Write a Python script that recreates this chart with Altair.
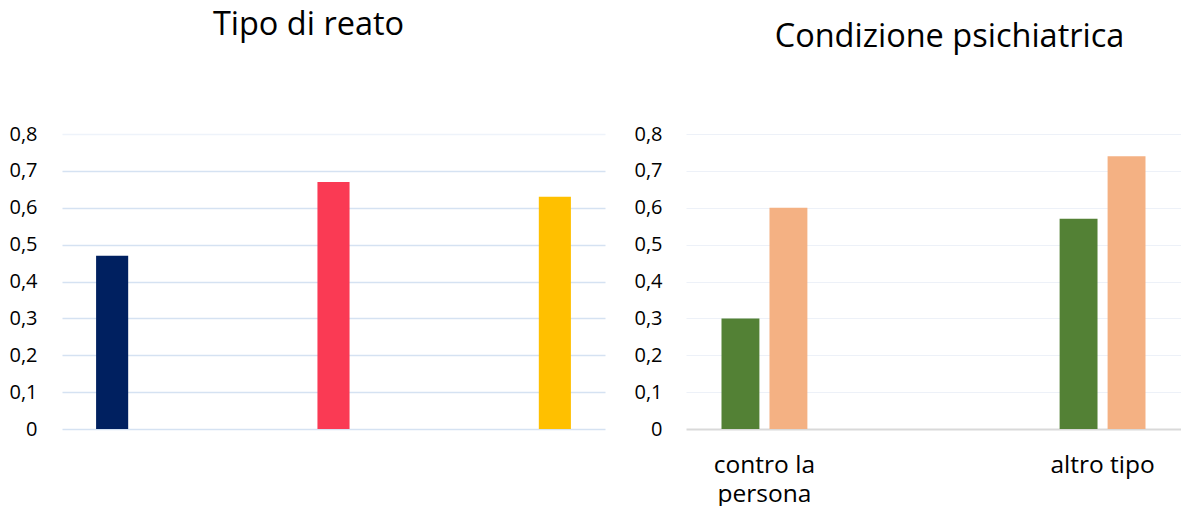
import altair as alt
import pandas as pd

# ---- data ----
left_title = "Tipo di reato"
left_categories = ["reato 1", "reato 2", "reato 3"]
left_values = [0.47, 0.67, 0.63]
left_colors = ["#002060", "#FA3A54", "#FFC000"]

right_title = "Condizione psichiatrica"
right_categories = ["contro la persona", "altro tipo"]
right_series = ["serie 1", "serie 2"]
right_values_s1 = [0.30, 0.57]
right_values_s2 = [0.60, 0.74]
right_colors = ["#538135", "#F4B183"]

y_ticks = [0, 0.1, 0.2, 0.3, 0.4, 0.5, 0.6, 0.7, 0.8]

FONT = "Open Sans"

df_left = pd.DataFrame({"cat": left_categories, "val": left_values})
rows = []
for i, c in enumerate(right_categories):
    rows.append({"cat": c, "serie": right_series[0], "val": right_values_s1[i]})
    rows.append({"cat": c, "serie": right_series[1], "val": right_values_s2[i]})
df_right = pd.DataFrame(rows)

ylabel = "datum.value == 0 ? '0' : replace(format(datum.value, '.1f'), '.', ',')"

PLOT_H = 295

left = alt.Chart(df_left).mark_bar().encode(
    x=alt.X("cat:N", sort=left_categories,
            scale=alt.Scale(paddingInner=0.855, paddingOuter=0.154),
            axis=alt.Axis(title=None, labels=False, ticks=False, domain=False, grid=False)),
    y=alt.Y("val:Q", scale=alt.Scale(domain=[0, 0.8], nice=False),
            axis=alt.Axis(title=None, values=y_ticks, labelExpr=ylabel, ticks=False, domain=False,
                          labelPadding=25, minExtent=54, maxExtent=54,
                          labelFontSize=20, labelColor="#000000", labelFont=FONT,
                          gridColor={"condition": {"test": "datum.value === 0.8", "value": "#EEF3FA"},
                                     "value": "#D5E2F2"},
                          gridWidth=1.6)),
    color=alt.Color("cat:N", scale=alt.Scale(domain=left_categories, range=left_colors), legend=None),
).properties(
    width=543, height=PLOT_H,
    title=alt.TitleParams(left_title, fontSize=32.5, font=FONT, fontWeight="normal", color="#000000",
                          baseline="alphabetic", offset=57, frame="group", anchor="middle", dx=-25),
)

right = alt.Chart(df_right).mark_bar().encode(
    x=alt.X("cat:N", sort=right_categories,
            scale=alt.Scale(paddingInner=0.746, paddingOuter=0.105),
            axis=alt.Axis(title=None, ticks=False, domain=False,
                          labelAngle=0, labelFontSize=24.5, labelFont=FONT, labelColor="#000000",
                          labelExpr="datum.value == 'contro la persona' ? ['contro la', 'persona'] : datum.value",
                          labelLineHeight=29, labelBaseline="alphabetic", labelPadding=43, grid=False)),
    xOffset=alt.XOffset("serie:N", sort=right_series,
                        scale=alt.Scale(paddingInner=0.21, paddingOuter=0)),
    y=alt.Y("val:Q", scale=alt.Scale(domain=[0, 0.8], nice=False),
            axis=alt.Axis(title=None, values=y_ticks, labelExpr=ylabel, ticks=False, domain=False,
                          labelPadding=24, minExtent=53, maxExtent=53,
                          labelFontSize=20, labelColor="#000000", labelFont=FONT,
                          gridColor={"condition": {"test": "datum.value === 0", "value": "#D9D9D9"},
                                     "value": "#EDF1F8"},
                          gridWidth={"condition": {"test": "datum.value === 0", "value": 2},
                                     "value": 1.2})),
    color=alt.Color("serie:N", scale=alt.Scale(domain=right_series, range=right_colors), legend=None),
).properties(
    width=495, height=PLOT_H,
    title=alt.TitleParams(right_title, fontSize=32.5, font=FONT, fontWeight="normal", color="#000000",
                          baseline="alphabetic", offset=45, frame="group", anchor="middle", dx=16),
)

chart = alt.hconcat(left, right, spacing=28).resolve_scale(color="independent").properties(
    padding={"left": 0, "right": 0, "top": 0, "bottom": 0}
).configure_view(stroke=None)

chart.save("out.html", embed_options={"renderer": "svg", "actions": False})
